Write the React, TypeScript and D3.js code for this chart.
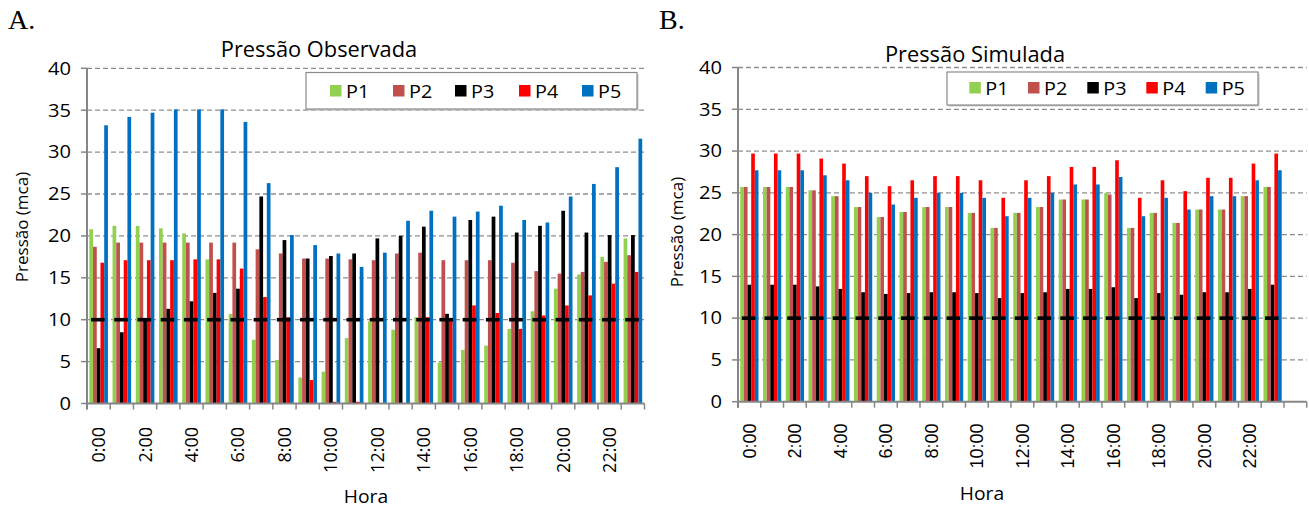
import React from 'react';
import * as d3 from 'd3';

const hoursObs = ['0:00','1:00','2:00','3:00','4:00','5:00','6:00','7:00','8:00','9:00','10:00','11:00','12:00','13:00','14:00','15:00','16:00','17:00','18:00','19:00','20:00','21:00','22:00','23:00'];
const hoursSim = ['0:00','1:00','2:00','3:00','4:00','5:00','6:00','7:00','8:00','9:00','10:00','11:00','12:00','13:00','14:00','15:00','16:00','17:00','18:00','19:00','20:00','21:00','22:00','23:00',''];
const seriesNames = ['P1','P2','P3','P4','P5'];
const seriesColors = ['#92D050','#C0504D','#000000','#FF0000','#0070C0'];
const yTicks = [0,5,10,15,20,25,30,35,40];

const obsP1 = [20.8,21.2,21.2,20.9,20.3,17.2,10.7,7.6,5.2,3.1,3.8,7.8,9.8,8.8,10.3,4.9,6.4,6.9,8.9,11.0,13.7,15.4,17.5,19.7];
const obsP2 = [18.7,19.2,19.2,19.2,19.2,19.2,19.2,18.4,17.9,17.3,17.3,17.2,17.1,17.9,18.0,17.1,17.1,17.1,16.8,15.8,15.5,15.7,16.9,17.7];
const obsP3 = [6.6,8.5,10.0,11.3,12.2,13.2,13.7,24.7,19.5,17.3,17.6,17.9,19.7,20.0,21.1,10.7,21.9,22.3,20.4,21.2,23.0,20.4,20.1,20.1];
const obsP4 = [16.8,17.1,17.1,17.1,17.2,17.2,16.1,12.7,10.3,2.8,0.2,0.2,0,0,10.3,10.0,11.7,10.8,8.9,10.5,11.7,12.9,14.3,15.7];
const obsP5 = [33.2,34.2,34.7,35.1,35.1,35.1,33.6,26.3,20.1,18.9,17.9,16.3,18.0,21.8,23.0,22.3,22.9,23.6,21.9,21.6,24.7,26.2,28.2,31.6];
const obsRef = [10,10,10,10,10,10,10,10,10,10,10,10,10,10,10,10,10,10,10,10,10,10,10,10];

const simP1 = [25.7,25.7,25.7,25.3,24.6,23.3,22.1,22.7,23.3,23.3,22.6,20.8,22.6,23.3,24.2,24.2,25.0,20.8,22.6,21.4,23.0,23.0,24.6,25.7];
const simP2 = [25.7,25.7,25.7,25.3,24.6,23.3,22.1,22.7,23.3,23.3,22.6,20.8,22.6,23.3,24.2,24.2,24.8,20.8,22.6,21.4,23.0,23.0,24.6,25.7];
const simP3 = [14.0,14.0,14.0,13.8,13.5,13.1,12.9,13.0,13.1,13.1,13.0,12.4,13.0,13.1,13.5,13.5,13.7,12.4,13.0,12.8,13.1,13.1,13.5,14.0];
const simP4 = [29.7,29.7,29.7,29.1,28.5,27.0,25.8,26.5,27.0,27.0,26.5,24.4,26.5,27.0,28.1,28.1,28.9,24.4,26.5,25.2,26.8,26.8,28.5,29.7];
const simP5 = [27.7,27.7,27.7,27.1,26.5,25.0,23.6,24.4,25.0,25.0,24.4,22.2,24.4,25.0,26.0,26.0,26.9,22.2,24.4,23.0,24.6,24.6,26.5,27.7];
const simRef = [10,10,10,10,10,10,10,10,10,10,10,10,10,10,10,10,10,10,10,10,10,10,10,10];

const CAL = "'Open Sans', 'Noto Sans', sans-serif";
const ARIAL = "'Liberation Sans', Arial, sans-serif";
const SERIF = "'Liberation Serif', 'Times New Roman', serif";
const AXIS = '#868686';
const GRID = '#8e8e8e';

type ChartProps = {
  letter: string; letterX: number;
  title: string; titleX: number; titleY: number;
  categories: string[]; series: number[][]; ref: number[];
  x0: number; x1: number; yBottom: number; yTop: number;
  legend: { x: number; y: number; w: number; h: number; items: number[]; sqY: number; textY: number };
  yTitleX: number; yTitleY: number;
  horaX: number; horaY: number;
  xLabelFont: string; xLabelSize: number; xLabelTop: number;
};

function Chart(p: ChartProps) {
  const x = d3.scaleBand<string>().domain(p.categories.map((c, i) => String(i))).range([p.x0, p.x1]).paddingInner(0).paddingOuter(0);
  const xs = d3.scaleBand<string>().domain(seriesNames).range([0, x.bandwidth()]).paddingInner(0).paddingOuter(0.62);
  const y = d3.scaleLinear().domain([0, 40]).range([p.yBottom, p.yTop]);
  const n = p.categories.length;
  return (
    <g>
      <text x={p.letterX} y={29} fontFamily={SERIF} fontSize={28}>{p.letter}</text>
      <text transform={`translate(${p.titleX},${p.titleY}) scale(1.04,1)`} fontFamily={CAL} fontSize={21} textAnchor="middle">{p.title}</text>
      {yTicks.filter(t => t > 0).map(t => (
        <line key={'g' + t} x1={p.x0} x2={p.x1} y1={y(t)} y2={y(t)} stroke={GRID} strokeWidth={1.3} strokeDasharray="5,3" />
      ))}
      {p.series.map((vals, si) => vals.map((v, ci) => (
        <rect key={'b' + si + '-' + ci} x={(x(String(ci)) as number) + (xs(seriesNames[si]) as number)} width={xs.bandwidth()}
          y={y(v)} height={y(0) - y(v)} fill={seriesColors[si]} />
      )))}
      {p.ref.map((v, ci) => {
        const cx = (x(String(ci)) as number) + x.bandwidth() / 2 - 0.8;
        return <line key={'r' + ci} x1={cx - 6.8} x2={cx + 6.8} y1={y(v)} y2={y(v)} stroke="#000" strokeWidth={3.6} />;
      })}
      <line x1={p.x0} x2={p.x0} y1={p.yTop} y2={p.yBottom + 6} stroke={AXIS} strokeWidth={2} />
      {yTicks.map(t => (
        <g key={'yt' + t}>
          <line x1={p.x0 - 6} x2={p.x0} y1={y(t)} y2={y(t)} stroke={AXIS} strokeWidth={1.5} />
          <text transform={`translate(${p.x0 - 16},${y(t)}) scale(1.15,1)`} dy="0.36em" textAnchor="end" fontFamily={CAL} fontSize={17.5}>{t}</text>
        </g>
      ))}
      <line x1={p.x0} x2={p.x1} y1={p.yBottom} y2={p.yBottom} stroke={AXIS} strokeWidth={2} />
      {d3.range(n + 1).map(i => {
        const xx = i < n ? (x(String(i)) as number) : p.x1;
        return <line key={'xt' + i} x1={xx} x2={xx} y1={p.yBottom} y2={p.yBottom + 6} stroke={AXIS} strokeWidth={1.5} />;
      })}
      {p.categories.map((c, i) => (i % 2 === 0 && c ? (
        <text key={'xl' + i} transform={`translate(${(x(String(i)) as number) + x.bandwidth() / 2},${p.xLabelTop}) rotate(-90)`}
          textAnchor="end" dy="0.36em" fontFamily={p.xLabelFont} fontSize={p.xLabelSize}>{c}</text>
      ) : null))}
      <text transform={`translate(${p.yTitleX},${p.yTitleY}) rotate(-90)`} textAnchor="middle" dy="0.36em" fontFamily={CAL} fontSize={17}>Pressão (mca)</text>
      <text transform={`translate(${p.horaX},${p.horaY}) scale(1.1,1)`} textAnchor="middle" fontFamily={CAL} fontSize={17.5}>Hora</text>
      <rect x={p.legend.x + 1.5} y={p.legend.y + 1.5} width={p.legend.w} height={p.legend.h} fill="#c8c8c8" />
      <rect x={p.legend.x} y={p.legend.y} width={p.legend.w} height={p.legend.h} fill="#fff" stroke="#8a8a8a" strokeWidth={1.2} />
      {seriesNames.map((s, i) => (
        <g key={'lg' + s}>
          <rect x={p.legend.items[i]} y={p.legend.sqY} width={11.5} height={11.5} fill={seriesColors[i]} />
          <text transform={`translate(${p.legend.items[i] + 16},${p.legend.textY}) scale(1.1,1)`} fontFamily={CAL} fontSize={18}>{s}</text>
        </g>
      ))}
    </g>
  );
}

export default function App() {
  return (
    <svg width={1309} height={508} style={{ position: 'absolute', left: 0, top: 0, background: '#fff' }}>
      <rect width={1309} height={508} fill="#fff" />
      <Chart letter="A." letterX={8} title="Pressão Observada" titleX={319} titleY={56.5}
        categories={hoursObs} series={[obsP1, obsP2, obsP3, obsP4, obsP5]} ref={obsRef}
        x0={87} x1={644.5} yBottom={403.5} yTop={68.3}
        legend={{ x: 306, y: 72.5, w: 331, h: 36.5, items: [330, 393, 455, 519, 582], sqY: 85, textY: 98 }}
        yTitleX={22} yTitleY={227} horaX={366} horaY={503}
        xLabelFont={CAL} xLabelSize={18} xLabelTop={427} />
      <Chart letter="B." letterX={659} title="Pressão Simulada" titleX={975} titleY={61.5}
        categories={hoursSim} series={[simP1, simP2, simP3, simP4, simP5]} ref={simRef}
        x0={738} x1={1306.7} yBottom={401.7} yTop={67.5}
        legend={{ x: 947, y: 72, w: 311, h: 33, items: [969.3, 1028, 1087.3, 1146.3, 1205.7], sqY: 82, textY: 95 }}
        yTitleX={677} yTitleY={232} horaX={982} horaY={500}
        xLabelFont={ARIAL} xLabelSize={18} xLabelTop={423.5} />
    </svg>
  );
}
